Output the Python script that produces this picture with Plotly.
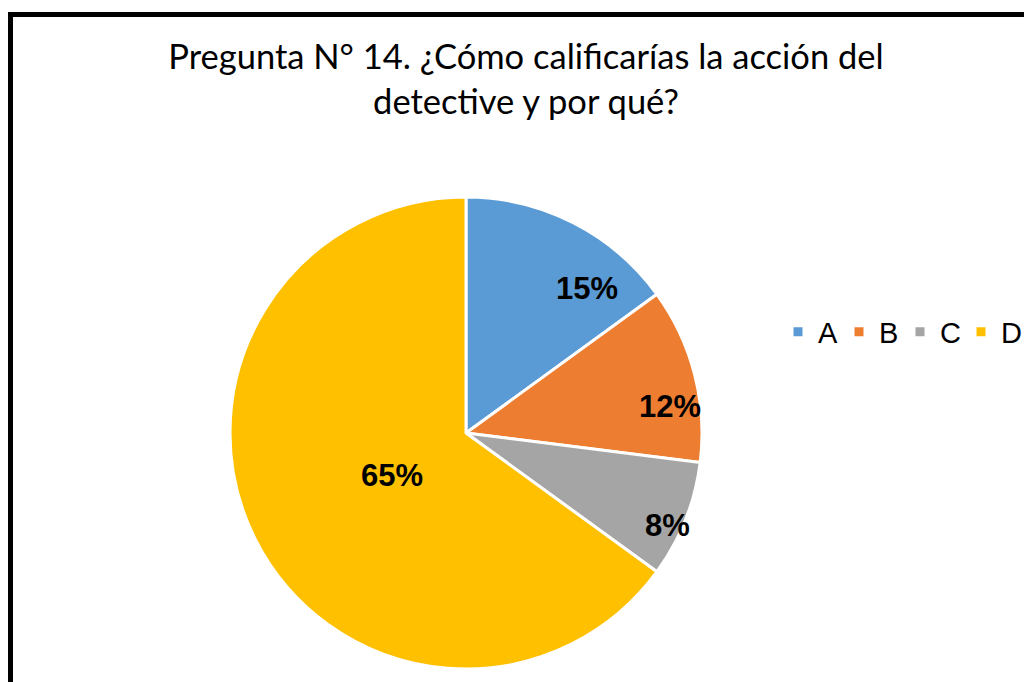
import math
import plotly.graph_objects as go

categories = ["A", "B", "C", "D"]
values = [15, 12, 8, 65]
colors = ["#5b9bd5", "#ed7d31", "#a5a5a5", "#ffc000"]

W, H = 1032, 682
OFF = 8  # default body margin of the html page shifts the figure

# pie geometry in page pixels (centre and radius)
CX, CY, R = 466 - OFF, 433 - OFF, 236

# label placement style: radial fraction and angular nudge (degrees) per slice
label_r = [0.80, 0.87, 0.94, 0.36]
label_nudge = [13, 7, 3, -3]

fig = go.Figure()

fig.add_trace(go.Pie(
    labels=categories,
    values=values,
    sort=False,
    direction="clockwise",
    rotation=0,
    marker=dict(colors=colors, line=dict(color="white", width=3)),
    textinfo="none",
    domain=dict(x=[(CX - R) / W, (CX + R) / W], y=[(H - CY - R) / H, (H - CY + R) / H]),
    hoverinfo="label+percent",
))

total = sum(values)
start = 0.0
annotations = []
for i, v in enumerate(values):
    share = v / total
    mid = (start + share / 2) * 360 + label_nudge[i]
    start += share
    th = math.radians(mid)
    px = CX + R * label_r[i] * math.sin(th)
    py = CY - R * label_r[i] * math.cos(th)
    annotations.append(dict(
        x=px / W, y=1 - py / H, xref="paper", yref="paper",
        text=f"<b>{round(share * 100)}%</b>", showarrow=False,
        xanchor="center", yanchor="middle",
        font=dict(family="Liberation Sans, Arial", size=31, color="black"),
    ))

fig.update_layout(
    width=W,
    height=H,
    margin=dict(l=0, r=0, t=0, b=0, autoexpand=False),
    paper_bgcolor="white",
    plot_bgcolor="white",
    title=dict(
        text="Pregunta N° 14. ¿Cómo calificarías la acción del<br>detective y por qué?",
        x=(526 - OFF) / W,
        xanchor="center",
        y=1 - (80 - 11 - OFF) / H,
        yanchor="middle",
        font=dict(family="Lato, Calibri, sans-serif", size=34.5, color="black"),
    ),
    legend=dict(
        orientation="h",
        x=(778 - OFF) / W,
        xanchor="left",
        y=1 - (333 - 9) / H,
        yanchor="middle",
        font=dict(family="Liberation Sans, Arial", size=29, color="black"),
        itemclick=False,
        entrywidth=16,
        entrywidthmode="pixels",
    ),
    annotations=annotations,
    shapes=[
        # outer border of the chart area, clipped by the window on right/bottom
        dict(type="rect", xref="paper", yref="paper",
             x0=2.5 / W, x1=1.05, y0=-0.05, y1=1 - 6.5 / H,
             line=dict(color="black", width=5), fillcolor="rgba(0,0,0,0)",
             layer="below"),
    ],
)

fig.write_html("out.html")
